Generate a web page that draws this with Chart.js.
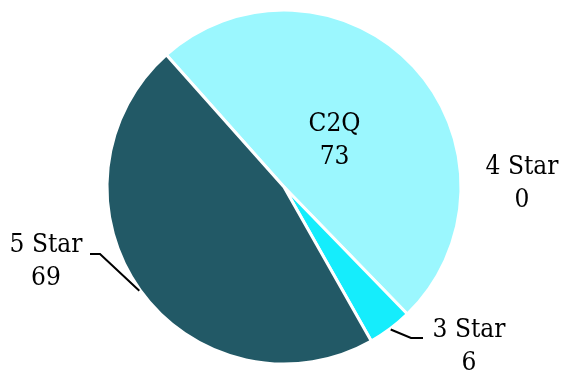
<!DOCTYPE html>
<html>
<head>
<meta charset="utf-8">
<script src="https://cdn.jsdelivr.net/npm/chart.js@4/dist/chart.umd.min.js"></script>
<style>
  html, body { margin: 0; padding: 0; background: #fff; }
  #wrap { width: 561px; height: 374px; }
</style>
</head>
<body>
<div id="wrap"><canvas id="pieChart" width="561" height="374"></canvas></div>
<script>
    // data
    let categories = ['C2Q', '4 Star', '3 Star', '5 Star'];
    let ratings = [73, 0, 6, 69];
    let sliceColors = ['#9bf7fe', '#7fe9f4', '#15edfc', '#225966'];

    // where each label sits, relative to its slice
    // inside: distance along the middle angle; outside: text centre + leader elbow offsets
    let labelLayout = [
      {inside: 0.39},
      {text: [238, -4]},
      {text: [185, 159], line: [[127, 151], [139, 151]]},
      {text: [-238, 74], line: [[-184, 67], [-194, 67]]}
    ];

    let labelFont = '26px "DejaVu Serif Condensed", "DejaVu Serif", serif';

    let pieLabels = {
      id: 'pieLabels',
      afterDatasetsDraw(chart) {
        let ctx = chart.ctx;
        let arcs = chart.getDatasetMeta(0).data;
        ctx.save();
        ctx.font = labelFont;
        ctx.fillStyle = '#000';
        ctx.strokeStyle = '#000';
        ctx.lineWidth = 2;
        ctx.textAlign = 'center';
        ctx.textBaseline = 'middle';
        arcs.forEach((arc, i) => {
          let p = arc.getProps(['x', 'y', 'startAngle', 'endAngle', 'outerRadius']);
          let mid = (p.startAngle + p.endAngle) / 2;
          let lay = labelLayout[i];
          let tx, ty;
          if (lay.inside) {
            tx = p.x + Math.cos(mid) * p.outerRadius * lay.inside;
            ty = p.y + Math.sin(mid) * p.outerRadius * lay.inside;
          } else {
            tx = p.x + lay.text[0];
            ty = p.y + lay.text[1];
            if (lay.line) {
              let ex = p.x + Math.cos(mid) * (p.outerRadius + 1);
              let ey = p.y + Math.sin(mid) * (p.outerRadius + 1);
              ctx.beginPath();
              ctx.moveTo(ex, ey);
              lay.line.forEach(pt => ctx.lineTo(p.x + pt[0], p.y + pt[1]));
              ctx.stroke();
            }
          }
          ctx.fillText(categories[i], tx, ty - 16);
          ctx.fillText(String(ratings[i]), tx, ty + 17);
        });
        ctx.restore();
      }
    };

    let pieChart = document.getElementById('pieChart').getContext('2d');

    let ratingChart = new Chart(pieChart, {
      type: 'pie',
      data: {
        labels: categories,
        datasets: [{
          label: 'Ratings',
          data: ratings,
          backgroundColor: sliceColors,
          borderColor: '#ffffff',
          borderWidth: 3
        }]
      },
      options: {
        responsive: false,
        animation: false,
        rotation: -41.7,
        radius: 177,
        layout: { padding: { left: 100, right: 93, top: 10, bottom: 10 } },
        plugins: {
          legend: { display: false },
          tooltip: { enabled: false }
        }
      },
      plugins: [pieLabels]
    });
</script>
</body>
</html>
